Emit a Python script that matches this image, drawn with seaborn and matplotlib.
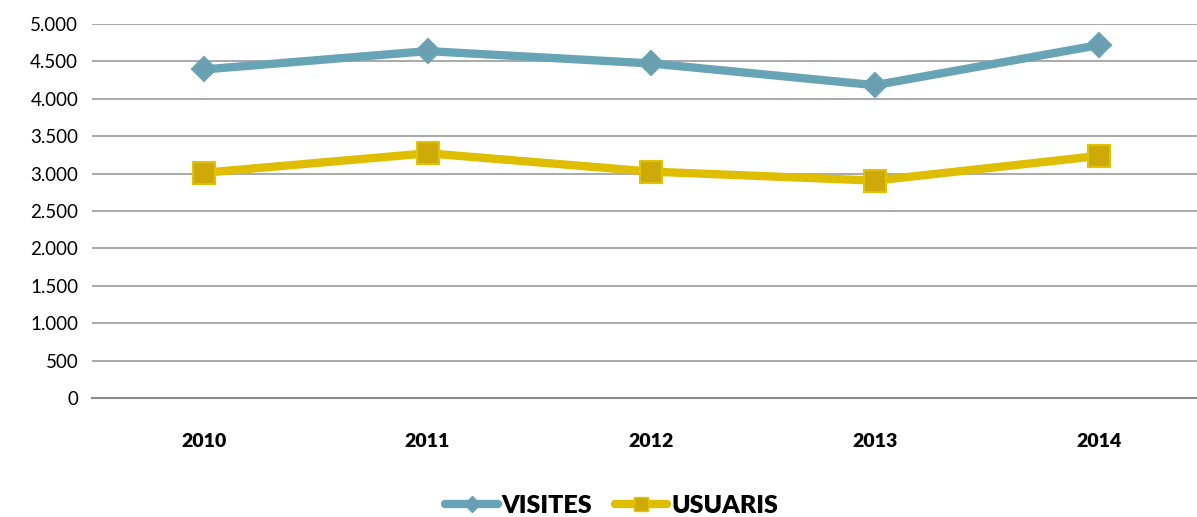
import pandas as pd
import matplotlib
matplotlib.use("Agg")
import matplotlib.pyplot as plt
import seaborn as sns

# values
years = ["2010", "2011", "2012", "2013", "2014"]
visites = [4390, 4635, 4470, 4180, 4715]
usuaris = [3010, 3270, 3025, 2905, 3235]

df = pd.DataFrame({
    "year": years * 2,
    "value": visites + usuaris,
    "serie": ["VISITES"] * len(years) + ["USUARIS"] * len(years),
})

sns.set_theme(style="white")
plt.rcParams["font.family"] = ["Lato", "DejaVu Sans"]
plt.rcParams["text.color"] = "black"
plt.rcParams["xtick.color"] = "black"
plt.rcParams["ytick.color"] = "black"

fig = plt.figure(figsize=(11.97, 5.17), dpi=100)
ax = fig.add_axes([0.0769, 0.230, 0.9231, 0.724])

palette = {"VISITES": "#67A4B6", "USUARIS": "#DFBE00"}
sns.lineplot(data=df, x="year", y="value", hue="serie", style="serie",
             palette=palette, markers={"VISITES": "D", "USUARIS": "s"},
             dashes=False, linewidth=6, markersize=16, sort=False,
             legend=False, ax=ax)

# marker colours a bit darker than the line, like the original
for line, face, edge in zip(ax.lines, ["#6A9FB1", "#CDAA08"], ["#67A4B6", "#E3C200"]):
    line.set_markerfacecolor(face)
    line.set_markeredgecolor(edge)
    line.set_markeredgewidth(1.5)
    line.set_solid_capstyle("round")
ax.lines[0].set_markersize(12.5)

ax.set_ylim(0, 5000)
ax.set_xlim(-0.5, 4.44)
ax.set_yticks(range(0, 5001, 500))
ax.set_yticklabels([f"{v:,}".replace(",", ".") for v in range(0, 5001, 500)], fontsize=13.5)
ax.set_xticks(range(len(years)))
ax.set_xticklabels(years, fontsize=14, fontweight="heavy")
ax.tick_params(axis="x", length=0, pad=25)
ax.tick_params(axis="y", length=0, pad=10)
ax.set_xlabel("")
ax.set_ylabel("")

ax.grid(axis="y", color="#A3A3A3", linewidth=1.3)
ax.grid(axis="x", visible=False)
for side in ["top", "right", "left"]:
    ax.spines[side].set_visible(False)
ax.spines["bottom"].set_color("#8A8A8A")
ax.spines["bottom"].set_linewidth(1.5)
ax.set_axisbelow(True)

handles = [
    plt.Line2D([], [], color="#67A4B6", lw=6, marker="D", markersize=8.5,
               markerfacecolor="#6A9FB1", markeredgecolor="#67A4B6", solid_capstyle="round"),
    plt.Line2D([], [], color="#DFBE00", lw=6, marker="s", markersize=10.5,
               markerfacecolor="#CDAA08", markeredgecolor="#E3C200", solid_capstyle="round"),
]
fig.legend(handles, ["VISITES", "USUARIS"], loc="center", bbox_to_anchor=(0.511, 0.022),
           ncol=2, frameon=False, handlelength=2.1, handletextpad=0.15, columnspacing=0.9,
           prop={"size": 18, "weight": "heavy"})

fig.savefig("out.png", dpi=100)
